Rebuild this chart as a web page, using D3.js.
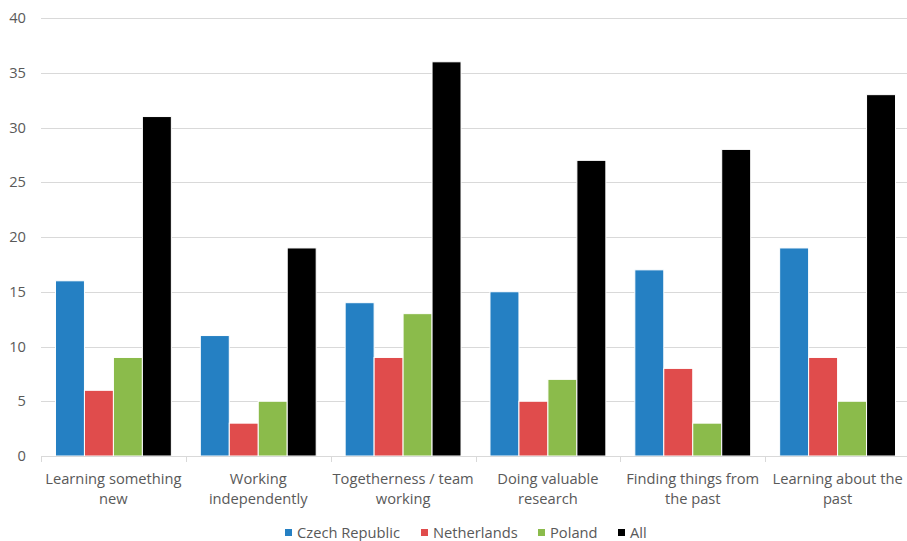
<!DOCTYPE html>
<html><head><meta charset="utf-8">
<script src="https://cdn.jsdelivr.net/npm/d3@7"></script>
<style>body{margin:0;background:#fff}svg{display:block}text{font-family:"Open Sans",sans-serif;fill:#595959}</style>
</head><body><svg id="c" width="907" height="541"></svg>
<script>
const categories = [["Learning something","new"],["Working","independently"],["Togetherness / team","working"],["Doing valuable","research"],["Finding things from","the past"],["Learning about the","past"]];
const seriesNames = ["Czech Republic","Netherlands","Poland","All"];
const seriesColors = ["#2580c3","#e04c4c","#8bbb4b","#000000"];
const czech = [16,11,14,15,17,19];
const netherlands = [6,3,9,5,8,9];
const poland = [9,5,13,7,3,5];
const all = [31,19,36,27,28,33];
const yTicks = [0,5,10,15,20,25,30,35,40];

(function(){
const series = [czech, netherlands, poland, all];
const svg = d3.select("#c");
const mL = 41, mR = 910, mT = 18, mB = 456;
const fs = "14.7px";
const catIdx = d3.range(categories.length);
const x0 = d3.scaleBand().domain(catIdx).range([mL, mR]).padding(0);
const y = d3.scaleLinear().domain([0,40]).range([mB, mT]);
const bw = x0.bandwidth();
const x1 = d3.scaleBand().domain(d3.range(series.length)).range([bw*0.1, bw*0.9]).padding(0);

svg.append("g").selectAll("line").data(yTicks.slice(1)).join("line")
  .attr("x1", mL).attr("x2", 907).attr("y1", d=>Math.round(y(d))+0.5).attr("y2", d=>Math.round(y(d))+0.5)
  .attr("stroke", "#d9d9d9").attr("stroke-width", 1);

svg.append("g").selectAll("text").data(yTicks).join("text")
  .attr("x", 26).attr("y", d=>y(d)).attr("dy","0.35em").attr("text-anchor","end")
  .style("font-size",fs).text(d=>d);

catIdx.forEach(i=>{
  series.forEach((s,j)=>{
    svg.append("rect")
      .attr("x", x0(i)+x1(j)).attr("width", x1.bandwidth())
      .attr("y", y(s[i])).attr("height", y(0)-y(s[i]))
      .attr("fill", seriesColors[j]).attr("stroke","#fff").attr("stroke-width",1);
  });
});

svg.append("line").attr("x1",mL).attr("x2",907).attr("y1",mB+0.5).attr("y2",mB+0.5).attr("stroke","#d9d9d9");
svg.append("g").selectAll("line").data(d3.range(categories.length+1)).join("line")
  .attr("x1", d=>Math.round(mL+d*bw)+0.5).attr("x2", d=>Math.round(mL+d*bw)+0.5).attr("y1",mB).attr("y2",mB+6)
  .attr("stroke","#d9d9d9");

catIdx.forEach(i=>{
  const t = svg.append("text").attr("text-anchor","middle").style("font-size",fs)
    .attr("x", x0(i)+bw/2).attr("y", 484);
  categories[i].forEach((line,k)=>{
    t.append("tspan").attr("x", x0(i)+bw/2).attr("dy", k===0?0:20).text(line);
  });
});

const legendX = [285, 421, 538, 618];
seriesNames.forEach((n,j)=>{
  svg.append("rect").attr("x",legendX[j]).attr("y",529).attr("width",7).attr("height",7).attr("fill",seriesColors[j]);
  svg.append("text").attr("x",legendX[j]+12).attr("y",532.5).attr("dy","0.35em").style("font-size",fs).text(n);
});
})();
</script></body></html>
